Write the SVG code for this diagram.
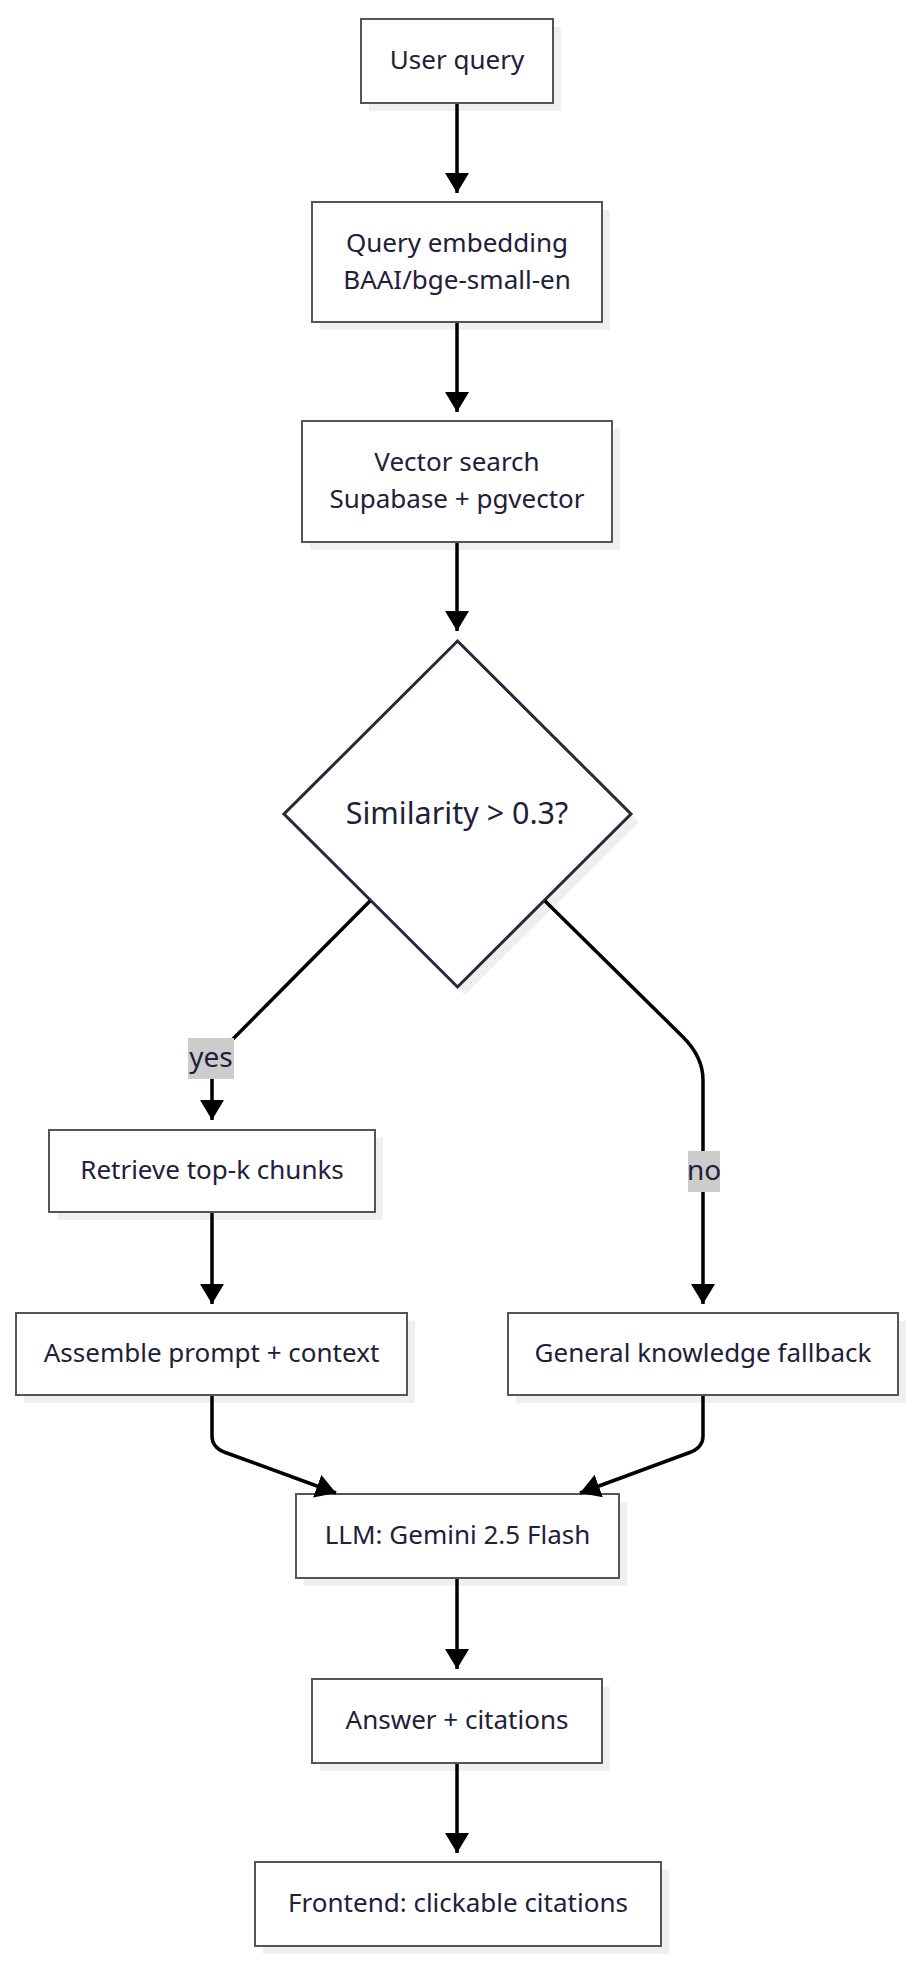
<svg xmlns="http://www.w3.org/2000/svg" width="914" height="1966" viewBox="0 0 914 1966">
<style>
.bg{fill:#ffffff}
.shadow{fill:#efefef}
.box{fill:#ffffff;stroke:#555555;stroke-width:2}
.dia{fill:#ffffff;stroke:#27273d;stroke-width:3}
.t{font-family:"Noto Sans","Open Sans",sans-serif;font-size:26px;fill:#20203a;text-anchor:middle;dominant-baseline:central}
.td{font-family:"Noto Sans","Open Sans",sans-serif;font-size:30.5px;fill:#20203a;text-anchor:middle;dominant-baseline:central}
.tb{font-family:"Noto Sans","Open Sans",sans-serif;font-size:28px;fill:#20203a;text-anchor:middle;dominant-baseline:central}
.e{fill:none;stroke:#000000;stroke-width:3.5}
.lbl{fill:#cccccc}
</style>
<defs>
<marker id="arr" markerUnits="userSpaceOnUse" viewBox="0 0 20 24" markerWidth="20" markerHeight="24" refX="20" refY="12" orient="auto">
<path d="M0,0 L20,12 L0,24 z" fill="#000000"/>
</marker>
</defs>
<rect class="bg" x="0" y="0" width="914" height="1966"/>

<g id="n1">
<rect class="shadow" x="369" y="27" width="192" height="84"/>
<rect class="box" x="361" y="19" width="192" height="84"/>
<text class="t" x="457" y="59">User query</text>
</g>
<g id="n2">
<rect class="shadow" x="320" y="210" width="290" height="120"/>
<rect class="box" x="312" y="202" width="290" height="120"/>
<text class="t" x="457" y="242">Query embedding</text>
<text class="t" x="457" y="279">BAAI/bge-small-en</text>
</g>
<g id="n3">
<rect class="shadow" x="310" y="429" width="310" height="121"/>
<rect class="box" x="302" y="421" width="310" height="121"/>
<text class="t" x="457" y="461">Vector search</text>
<text class="t" x="457" y="498">Supabase + pgvector</text>
</g>
<g id="n4">
<polygon class="shadow" points="465,649 639,822 465,995 291,822"/>
<polygon class="dia" points="457.5,641 631,814 457.5,987 284,814"/>
<text class="td" x="457" y="812">Similarity &gt; 0.3?</text>
</g>
<g id="n5">
<rect class="shadow" x="57" y="1138" width="326" height="82"/>
<rect class="box" x="49" y="1130" width="326" height="82"/>
<text class="t" x="212" y="1169">Retrieve top-k chunks</text>
</g>
<g id="n6">
<rect class="shadow" x="24" y="1321" width="391" height="82"/>
<rect class="box" x="16" y="1313" width="391" height="82"/>
<text class="t" x="211.5" y="1352">Assemble prompt + context</text>
</g>
<g id="n7">
<rect class="shadow" x="516" y="1321" width="390" height="82"/>
<rect class="box" x="508" y="1313" width="390" height="82"/>
<text class="t" x="703" y="1352">General knowledge fallback</text>
</g>
<g id="n8">
<rect class="shadow" x="304" y="1502" width="323" height="84"/>
<rect class="box" x="296" y="1494" width="323" height="84"/>
<text class="t" x="457.5" y="1534">LLM: Gemini 2.5 Flash</text>
</g>
<g id="n9">
<rect class="shadow" x="320" y="1687" width="290" height="84"/>
<rect class="box" x="312" y="1679" width="290" height="84"/>
<text class="t" x="457" y="1719">Answer + citations</text>
</g>
<g id="n10">
<rect class="shadow" x="263" y="1870" width="406" height="84"/>
<rect class="box" x="255" y="1862" width="406" height="84"/>
<text class="t" x="458" y="1902">Frontend: clickable citations</text>
</g>

<g id="connectors">
<path class="e" d="M457,104 L457,193" marker-end="url(#arr)"/>
<path class="e" d="M457,323 L457,412" marker-end="url(#arr)"/>
<path class="e" d="M457,543 L457,631" marker-end="url(#arr)"/>
<path class="e" d="M370,901 L222,1050 Q212,1060 212,1074 L212,1120" marker-end="url(#arr)"/>
<path class="e" d="M545,901 L683,1037 Q703,1057 703,1080 L703,1304" marker-end="url(#arr)"/>
<path class="e" d="M212,1213 L212,1304" marker-end="url(#arr)"/>
<path class="e" d="M212,1396 L212,1436 Q212,1447 224,1452 L336,1493" marker-end="url(#arr)"/>
<path class="e" d="M703,1396 L703,1436 Q703,1447 691,1452 L580,1493" marker-end="url(#arr)"/>
<path class="e" d="M457,1579 L457,1669" marker-end="url(#arr)"/>
<path class="e" d="M457,1764 L457,1853" marker-end="url(#arr)"/>
<g id="label-yes">
<rect class="lbl" x="188" y="1038" width="46" height="41"/>
<text class="tb" x="211" y="1056">yes</text>
</g>
<g id="label-no">
<rect class="lbl" x="688" y="1151" width="32" height="41"/>
<text class="tb" x="704" y="1169">no</text>
</g>
</g>
</svg>
